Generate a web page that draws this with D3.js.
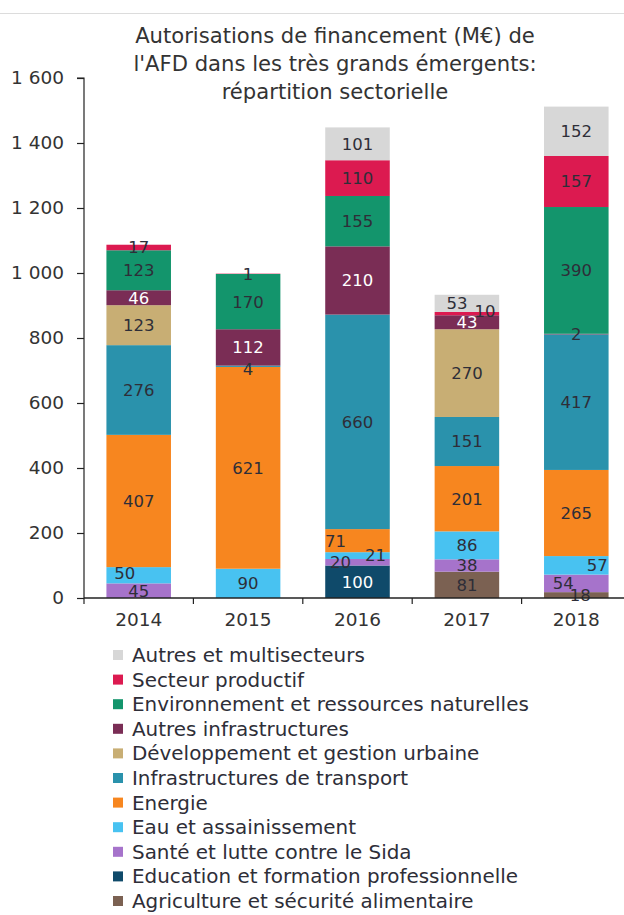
<!DOCTYPE html>
<html><head><meta charset="utf-8">
<script src="https://cdn.jsdelivr.net/npm/d3@7"></script>
<style>
html,body{margin:0;padding:0;background:#fff;}
svg{display:block;font-family:"DejaVu Sans",sans-serif;}
</style></head>
<body><svg id="c" width="624" height="915"></svg>
<script>
// ---- data ----
const years = ["2014","2015","2016","2017","2018"];
const seriesNames = [
  "Agriculture et sécurité alimentaire",
  "Education et formation professionnelle",
  "Santé et lutte contre le Sida",
  "Eau et assainissement",
  "Energie",
  "Infrastructures de transport",
  "Développement et gestion urbaine",
  "Autres infrastructures",
  "Environnement et ressources naturelles",
  "Secteur productif",
  "Autres et multisecteurs"
];
const agriculture   = [0, 0, 0, 81, 18];
const education     = [0, 0, 100, 0, 0];
const sante         = [45, 0, 20, 38, 54];
const eau           = [50, 90, 21, 86, 57];
const energie       = [407, 621, 71, 201, 265];
const transport     = [276, 4, 660, 151, 417];
const urbain        = [123, 0, 0, 270, 0];
const autresInfra   = [46, 112, 210, 43, 2];
const environnement = [123, 170, 155, 0, 390];
const productif     = [17, 1, 110, 10, 157];
const autres        = [0, 0, 101, 53, 152];
const yTicks = [0, 200, 400, 600, 800, 1000, 1200, 1400, 1600];
const yTickLabels = ["0","200","400","600","800","1 000","1 200","1 400","1 600"];
const titleLines = ["Autorisations de financement (M€) de", "l'AFD dans les très grands émergents:", "répartition sectorielle"];

const seriesValues = [agriculture, education, sante, eau, energie, transport, urbain, autresInfra, environnement, productif, autres];
const colors = ["#7b6152","#0f4a6a","#a673cb","#48c2f1","#f7861f","#2a92ac","#c8ae74","#7a2d55","#13956c","#dc1a50","#d7d7d7"];
const whiteLabel = {"Autres infrastructures":true, "Education et formation professionnelle":true};
// label nudges (px) for thin segments
const nudge = {
  "2014|Eau et assainissement":[-14,-2],
  "2015|Infrastructures de transport":[0,3],
  "2016|Energie":[-22,0],
  "2016|Santé et lutte contre le Sida":[-17,0],
  "2016|Eau et assainissement":[18,-1],
  "2017|Autres et multisecteurs":[-10,0],
  "2017|Secteur productif":[18,-3],
  "2018|Santé et lutte contre le Sida":[-13,0],
  "2018|Agriculture et sécurité alimentaire":[4,0],
  "2018|Eau et assainissement":[21,0]
};

// ---- build table ----
const table = years.map((y,i)=>{
  const o = {year:y};
  seriesNames.forEach((s,k)=>o[s]=seriesValues[k][i]);
  return o;
});
const stacked = d3.stack().keys(seriesNames)(table);

const svg = d3.select("#c");
const x0 = 84, x1 = 631, yBase = 598, yTop = 78;
const x = d3.scaleBand().domain(years).range([x0, x1]).paddingInner(0.41).paddingOuter(0.205);
const y = d3.scaleLinear().domain([0,1600]).range([yBase, yTop]);
const color = d3.scaleOrdinal().domain(seriesNames).range(colors);
const txt = "#2e2e38";

// faint scan line at top
svg.append("line").attr("x1",0).attr("x2",624).attr("y1",13.5).attr("y2",13.5)
  .attr("stroke","#dcdcdc").attr("stroke-width",1);

// title (fit first line to the reference width)
const title = svg.append("text").attr("text-anchor","middle").attr("fill","#333")
  .attr("font-size",20);
titleLines.forEach((t,i)=>{
  title.append("tspan").attr("x",335).attr("y",43 + i*28).text(t);
});
{
  const w = title.select("tspan").node().getComputedTextLength();
  title.attr("font-size", 20 * 400 / w);
}

// bars
const layer = svg.append("g").selectAll("g").data(stacked).join("g")
  .attr("fill",d=>color(d.key));
layer.selectAll("rect").data(d=>d.map(p=>({p,key:d.key}))).join("rect")
  .attr("x",d=>x(d.p.data.year))
  .attr("width",x.bandwidth())
  .attr("y",d=>y(d.p[1]))
  .attr("height",d=>Math.max(0,y(d.p[0])-y(d.p[1])));

// labels
const labels = [];
stacked.forEach(s=>s.forEach(p=>{
  const v = p[1]-p[0];
  if (v>0) labels.push({key:s.key, year:p.data.year, v, mid:(p[0]+p[1])/2});
}));
svg.append("g").selectAll("text").data(labels).join("text")
  .attr("x",d=>x(d.year)+x.bandwidth()/2 + ((nudge[d.year+"|"+d.key]||[0,0])[0]))
  .attr("y",d=>y(d.mid) + ((nudge[d.year+"|"+d.key]||[0,0])[1]))
  .attr("dy","0.36em")
  .attr("text-anchor","middle")
  .attr("font-size",16.5)
  .attr("fill",d=>(whiteLabel[d.key] && d.v>=20) ? "#fff" : txt)
  .text(d=>d.v);

// y axis
const yAxis = d3.axisLeft(y).tickValues(yTicks).tickFormat((d,i)=>yTickLabels[i]).tickSize(7).tickPadding(13);
const gy = svg.append("g").attr("transform",`translate(${x0},0)`).call(yAxis);
gy.select(".domain").attr("d",`M-7,${yTop}H0V${yBase}`).attr("stroke","#222").attr("stroke-width",1.2);
gy.selectAll(".tick line").attr("stroke","#222").attr("stroke-width",1.2);
gy.selectAll(".tick text").attr("font-size",18.5).attr("fill","#333").attr("font-family","DejaVu Sans, sans-serif");

// x axis
const xAxis = d3.axisBottom(x).tickSize(0).tickPadding(15);
const gx = svg.append("g").attr("transform",`translate(0,${yBase})`).call(xAxis);
gx.select(".domain").attr("d",`M${x0},0H${x1}`).attr("stroke","#222").attr("stroke-width",1.5);
gx.selectAll(".tick text").attr("font-size",18.5).attr("fill","#333").attr("font-family","DejaVu Sans, sans-serif");
// category separator ticks
const sep = years.slice(1).map(yr=>x(yr) - x.step()*x.paddingInner()/2);
gx.append("g").selectAll("line").data([x0,...sep]).join("line")
  .attr("x1",d=>d).attr("x2",d=>d).attr("y1",0).attr("y2",6)
  .attr("stroke","#222").attr("stroke-width",1.2);

// legend (top item = last series)
const legendOrder = seriesNames.slice().reverse();
const lg = svg.append("g").attr("font-size",19).selectAll("g").data(legendOrder).join("g")
  .attr("transform",(d,i)=>`translate(113,${655 + i*24.6})`);
lg.append("rect").attr("x",0).attr("y",-5).attr("width",10).attr("height",10)
  .attr("fill",d=>color(d));
const lt = lg.append("text").attr("x",19).attr("dy","0.35em")
  .attr("fill",txt).text(d=>d);
{
  const w = d3.max(lt.nodes(), n=>n.getComputedTextLength());
  svg.selectAll("g[font-size='19']").attr("font-size", 19 * 397 / w);
}
</script>
</body></html>
